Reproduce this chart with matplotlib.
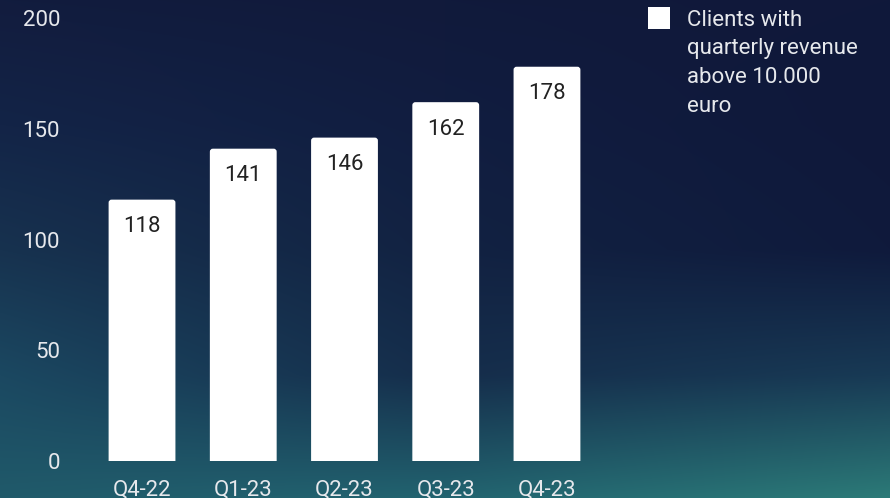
import numpy as np
import matplotlib
matplotlib.use("Agg")
import matplotlib.pyplot as plt
from matplotlib.colors import to_rgb
from matplotlib.patches import FancyBboxPatch, Rectangle

# ---- data ----
quarters = ["Q4-22", "Q1-23", "Q2-23", "Q3-23", "Q4-23"]
clients = [118, 141, 146, 162, 178]
yticks = [0, 50, 100, 150, 200]
legend_label = "Clients with\nquarterly revenue\nabove 10.000\neuro"

plt.rcParams['font.family'] = ['Roboto', 'DejaVu Sans']
FS = 16
TXT = "#e6e8ec"

W, H = 890, 498
fig = plt.figure(figsize=(W / 100, H / 100), dpi=100)

# background gradient built from control colours at explicit pixel positions
cy = [0, 125, 250, 375, 498]
cx = [0, 445, 890]
grid_hex = [
    ["#121c3e", "#111a3b", "#10183a"],
    ["#132447", "#111d40", "#0f183a"],
    ["#17324f", "#122242", "#0f1a3c"],
    ["#1b4861", "#152d4b", "#183a55"],
    ["#205a6a", "#226470", "#2c7b78"],
]
grid = np.array([[to_rgb(c) for c in row] for row in grid_hex])
ys = np.arange(H)
xs = np.arange(W)
col_interp = np.empty((H, len(cx), 3))
for j in range(len(cx)):
    for k in range(3):
        col_interp[:, j, k] = np.interp(ys, cy, grid[:, j, k])
img = np.empty((H, W, 3))
for k in range(3):
    for i in range(H):
        img[i, :, k] = np.interp(xs, cx, col_interp[i, :, k])
bg = fig.add_axes([0, 0, 1, 1], zorder=0)
bg.imshow(img, extent=[0, 1, 0, 1], aspect='auto', interpolation='bilinear', origin='upper')
bg.set_axis_off()

# main axes
x0, x1 = 91.4, 597.6
y0, y1 = 461, 18
ax = fig.add_axes([x0 / W, (H - y0) / H, (x1 - x0) / W, (y0 - y1) / H], zorder=1)
ax.set_facecolor('none')
ax.set_xlim(-0.5, len(quarters) - 0.5)
ax.set_ylim(0, 200)

xpos = np.arange(len(quarters))
bw = 0.66
bars = ax.bar(xpos, clients, width=bw, color='white', alpha=0)
px_x = (x1 - x0) / 5.0
px_y = (y0 - y1) / 200.0
r = 3.0 / px_x
for b in bars:
    # rounded top; bottom corners extend below the axis and are clipped
    p = FancyBboxPatch((b.get_x(), -5), b.get_width(), b.get_height() + 5,
                       boxstyle=f"round,pad=0,rounding_size={r}",
                       mutation_aspect=px_x / px_y,
                       facecolor='white', edgecolor='none', zorder=2)
    ax.add_patch(p)

for xi, v in zip(xpos, clients):
    ax.annotate(str(v), (xi, v), xytext=(0, -19.5), textcoords='offset points',
                ha='center', va='center', fontsize=FS, color='#222222', zorder=3)

ax.set_xticks(xpos)
ax.set_xticklabels(quarters)
ax.set_yticks(yticks)
ax.tick_params(axis='both', length=0, labelsize=FS, labelcolor=TXT)
ax.tick_params(axis='x', pad=13)
ax.tick_params(axis='y', pad=22.6)
for s in ax.spines.values():
    s.set_visible(False)

# legend (square marker + wrapped label)
fig.patches.append(Rectangle((648 / W, 1 - 29 / H), 22 / W, 22 / H,
                             transform=fig.transFigure, facecolor='white',
                             edgecolor='none', zorder=3))
fig.text(687 / W, 1 - 9.5 / H, legend_label, ha='left', va='top',
         fontsize=FS, color=TXT, linespacing=1.49, zorder=3)

fig.savefig("out.png", dpi=100)
